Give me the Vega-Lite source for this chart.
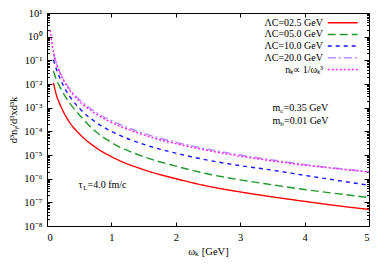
{
  "$schema": "https://vega.github.io/schema/vega-lite/v6.json",
  "width": 322,
  "height": 213,
  "autosize": {"type": "none"},
  "padding": {"left": 47, "top": 13, "right": 20, "bottom": 47},
  "config": {
    "font": "Liberation Serif",
    "view": {"stroke": "black", "strokeWidth": 1},
    "axis": {"domain": false, "grid": false, "tickColor": "black", "labelColor": "black", "titleColor": "black", "labelFont": "Liberation Serif", "titleFont": "Liberation Serif", "labelFontSize": 10.5, "titleFontSize": 10.5, "titleFontWeight": "normal"},
    "legend": {"labelFont": "Liberation Serif", "labelFontSize": 10, "labelColor": "black"}
  },
  "datasets": {
    "curves": [
      {"w": 0.1, "v": 1.12e-2, "s": "ΛC=02.5 GeV"},
      {"w": 0.15, "v": 3.16e-3, "s": "ΛC=02.5 GeV"},
      {"w": 0.2, "v": 1.41e-3, "s": "ΛC=02.5 GeV"},
      {"w": 0.3, "v": 3.98e-4, "s": "ΛC=02.5 GeV"},
      {"w": 0.4, "v": 1.58e-4, "s": "ΛC=02.5 GeV"},
      {"w": 0.5, "v": 7.94e-5, "s": "ΛC=02.5 GeV"},
      {"w": 0.75, "v": 2.14e-5, "s": "ΛC=02.5 GeV"},
      {"w": 1.0, "v": 8.51e-6, "s": "ΛC=02.5 GeV"},
      {"w": 1.5, "v": 2.40e-6, "s": "ΛC=02.5 GeV"},
      {"w": 2.0, "v": 1.0e-6, "s": "ΛC=02.5 GeV"},
      {"w": 2.5, "v": 4.79e-7, "s": "ΛC=02.5 GeV"},
      {"w": 3.0, "v": 2.75e-7, "s": "ΛC=02.5 GeV"},
      {"w": 3.5, "v": 1.70e-7, "s": "ΛC=02.5 GeV"},
      {"w": 4.0, "v": 1.10e-7, "s": "ΛC=02.5 GeV"},
      {"w": 4.5, "v": 7.24e-8, "s": "ΛC=02.5 GeV"},
      {"w": 5.0, "v": 5.01e-8, "s": "ΛC=02.5 GeV"},
      {"w": 0.1, "v": 3.55e-2, "s": "ΛC=05.0 GeV"},
      {"w": 0.15, "v": 1.41e-2, "s": "ΛC=05.0 GeV"},
      {"w": 0.2, "v": 7.59e-3, "s": "ΛC=05.0 GeV"},
      {"w": 0.3, "v": 2.51e-3, "s": "ΛC=05.0 GeV"},
      {"w": 0.4, "v": 1.05e-3, "s": "ΛC=05.0 GeV"},
      {"w": 0.5, "v": 5.01e-4, "s": "ΛC=05.0 GeV"},
      {"w": 0.75, "v": 1.0e-4, "s": "ΛC=05.0 GeV"},
      {"w": 1.0, "v": 3.39e-5, "s": "ΛC=05.0 GeV"},
      {"w": 1.5, "v": 8.51e-6, "s": "ΛC=05.0 GeV"},
      {"w": 2.0, "v": 3.39e-6, "s": "ΛC=05.0 GeV"},
      {"w": 2.5, "v": 1.58e-6, "s": "ΛC=05.0 GeV"},
      {"w": 3.0, "v": 8.91e-7, "s": "ΛC=05.0 GeV"},
      {"w": 3.5, "v": 5.50e-7, "s": "ΛC=05.0 GeV"},
      {"w": 4.0, "v": 3.47e-7, "s": "ΛC=05.0 GeV"},
      {"w": 4.5, "v": 2.34e-7, "s": "ΛC=05.0 GeV"},
      {"w": 5.0, "v": 1.58e-7, "s": "ΛC=05.0 GeV"},
      {"w": 0.1, "v": 0.107, "s": "ΛC=10.0 GeV"},
      {"w": 0.15, "v": 3.98e-2, "s": "ΛC=10.0 GeV"},
      {"w": 0.2, "v": 1.78e-2, "s": "ΛC=10.0 GeV"},
      {"w": 0.3, "v": 5.01e-3, "s": "ΛC=10.0 GeV"},
      {"w": 0.4, "v": 2.0e-3, "s": "ΛC=10.0 GeV"},
      {"w": 0.5, "v": 9.55e-4, "s": "ΛC=10.0 GeV"},
      {"w": 0.75, "v": 2.51e-4, "s": "ΛC=10.0 GeV"},
      {"w": 1.0, "v": 1.0e-4, "s": "ΛC=10.0 GeV"},
      {"w": 1.5, "v": 2.82e-5, "s": "ΛC=10.0 GeV"},
      {"w": 2.0, "v": 1.20e-5, "s": "ΛC=10.0 GeV"},
      {"w": 2.5, "v": 6.03e-6, "s": "ΛC=10.0 GeV"},
      {"w": 3.0, "v": 3.55e-6, "s": "ΛC=10.0 GeV"},
      {"w": 3.5, "v": 2.29e-6, "s": "ΛC=10.0 GeV"},
      {"w": 4.0, "v": 1.38e-6, "s": "ΛC=10.0 GeV"},
      {"w": 4.5, "v": 8.51e-7, "s": "ΛC=10.0 GeV"},
      {"w": 5.0, "v": 5.25e-7, "s": "ΛC=10.0 GeV"},
      {"w": 0.1, "v": 0.191, "s": "ΛC=20.0 GeV"},
      {"w": 0.15, "v": 6.61e-2, "s": "ΛC=20.0 GeV"},
      {"w": 0.2, "v": 3.16e-2, "s": "ΛC=20.0 GeV"},
      {"w": 0.3, "v": 1.0e-2, "s": "ΛC=20.0 GeV"},
      {"w": 0.4, "v": 4.27e-3, "s": "ΛC=20.0 GeV"},
      {"w": 0.5, "v": 2.24e-3, "s": "ΛC=20.0 GeV"},
      {"w": 0.75, "v": 6.61e-4, "s": "ΛC=20.0 GeV"},
      {"w": 1.0, "v": 2.82e-4, "s": "ΛC=20.0 GeV"},
      {"w": 1.5, "v": 8.32e-5, "s": "ΛC=20.0 GeV"},
      {"w": 2.0, "v": 3.47e-5, "s": "ΛC=20.0 GeV"},
      {"w": 2.5, "v": 1.74e-5, "s": "ΛC=20.0 GeV"},
      {"w": 3.0, "v": 1.0e-5, "s": "ΛC=20.0 GeV"},
      {"w": 3.5, "v": 6.17e-6, "s": "ΛC=20.0 GeV"},
      {"w": 4.0, "v": 3.98e-6, "s": "ΛC=20.0 GeV"},
      {"w": 4.5, "v": 2.75e-6, "s": "ΛC=20.0 GeV"},
      {"w": 5.0, "v": 1.95e-6, "s": "ΛC=20.0 GeV"},
      {"w": 0.05, "v": 1.905, "s": "nₖ∝ 1/ωₖ³"},
      {"w": 0.075, "v": 0.569, "s": "nₖ∝ 1/ωₖ³"},
      {"w": 0.1, "v": 0.240, "s": "nₖ∝ 1/ωₖ³"},
      {"w": 0.15, "v": 7.08e-2, "s": "nₖ∝ 1/ωₖ³"},
      {"w": 0.2, "v": 3.02e-2, "s": "nₖ∝ 1/ωₖ³"},
      {"w": 0.3, "v": 8.91e-3, "s": "nₖ∝ 1/ωₖ³"},
      {"w": 0.4, "v": 3.72e-3, "s": "nₖ∝ 1/ωₖ³"},
      {"w": 0.5, "v": 1.91e-3, "s": "nₖ∝ 1/ωₖ³"},
      {"w": 0.75, "v": 5.62e-4, "s": "nₖ∝ 1/ωₖ³"},
      {"w": 1.0, "v": 2.40e-4, "s": "nₖ∝ 1/ωₖ³"},
      {"w": 1.5, "v": 7.08e-5, "s": "nₖ∝ 1/ωₖ³"},
      {"w": 2.0, "v": 3.02e-5, "s": "nₖ∝ 1/ωₖ³"},
      {"w": 2.5, "v": 1.55e-5, "s": "nₖ∝ 1/ωₖ³"},
      {"w": 3.0, "v": 8.91e-6, "s": "nₖ∝ 1/ωₖ³"},
      {"w": 3.5, "v": 5.62e-6, "s": "nₖ∝ 1/ωₖ³"},
      {"w": 4.0, "v": 3.72e-6, "s": "nₖ∝ 1/ωₖ³"},
      {"w": 4.5, "v": 2.63e-6, "s": "nₖ∝ 1/ωₖ³"},
      {"w": 5.0, "v": 1.91e-6, "s": "nₖ∝ 1/ωₖ³"}
    ],
    "one": [{"k": 1}]
  },
  "data": {"name": "curves"},
  "layer": [
    {
      "mark": {"type": "line", "strokeWidth": 1.4, "interpolate": "monotone", "clip": true},
      "encoding": {
        "x": {"field": "w", "type": "quantitative", "scale": {"domain": [0, 5], "nice": false},
          "axis": {"values": [0, 1, 2, 3, 4, 5], "tickSize": -4, "labelPadding": 10, "title": "ωₖ [GeV]", "titlePadding": 4}},
        "y": {"field": "v", "type": "quantitative", "scale": {"type": "log", "domain": [1e-8, 10], "nice": false},
          "axis": {"tickCount": 20, "labelOverlap": false,
            "tickSize": {"condition": {"test": "abs(log(datum.value)/LN10 - round(log(datum.value)/LN10)) < 1e-6", "value": -5}, "value": -2.5},
            "labelPadding": 10,
            "labelExpr": "abs(log(datum.value)/LN10 - round(log(datum.value)/LN10)) > 1e-6 ? '' : '10' + replace(replace(replace(replace(replace(replace(replace(replace(replace(replace(toString(round(log(datum.value)/LN10)),'-','⁻'),'0','⁰'),'1','¹'),'2','²'),'3','³'),'4','⁴'),'5','⁵'),'6','⁶'),'7','⁷'),'8','⁸')",
            "title": "d³nᵧ/d³xd³k", "titlePadding": 5}},
        "color": {"field": "s", "type": "nominal",
          "scale": {"domain": ["ΛC=02.5 GeV", "ΛC=05.0 GeV", "ΛC=10.0 GeV", "ΛC=20.0 GeV", "nₖ∝ 1/ωₖ³"], "range": ["#ff0000", "#22992e", "#1515ff", "#bb88ff", "#ff22ff"]},
          "legend": {"orient": "none", "legendX": 289.7, "legendY": 3.7, "title": null, "symbolType": "M-3,0H3", "symbolSize": 100, "symbolStrokeWidth": 1.5, "labelAlign": "right", "labelOffset": -25.7, "padding": 0, "rowPadding": 0.7}},
        "strokeDash": {"field": "s", "type": "nominal",
          "scale": {"domain": ["ΛC=02.5 GeV", "ΛC=05.0 GeV", "ΛC=10.0 GeV", "ΛC=20.0 GeV", "nₖ∝ 1/ωₖ³"], "range": [[1, 0], [8, 4], [4, 4], [8, 3, 2, 3], [2, 2]]},
          "legend": null}
      }
    },
    {
      "mark": {"type": "line", "opacity": 0},
      "encoding": {
        "x": {"field": "w", "type": "quantitative", "axis": {"orient": "top", "values": [0, 1, 2, 3, 4, 5], "tickSize": -4, "labels": false, "title": null}},
        "y": {"field": "v", "type": "quantitative",
          "axis": {"orient": "right", "tickCount": 20, "labels": false, "title": null,
            "tickSize": {"condition": {"test": "abs(log(datum.value)/LN10 - round(log(datum.value)/LN10)) < 1e-6", "value": -5}, "value": -2.5}}}
      }
    },
    {
      "data": {"name": "one"},
      "mark": {"type": "text", "align": "left", "baseline": "middle", "fontSize": 10, "font": "Liberation Serif", "color": "black"},
      "encoding": {"x": {"datum": 3.5, "type": "quantitative", "axis": null}, "y": {"datum": 0.00095, "type": "quantitative", "axis": null}, "text": {"value": "m"}}
    },
    {
      "data": {"name": "one"},
      "mark": {"type": "text", "align": "left", "baseline": "middle", "fontSize": 7, "dx": 7.8, "dy": 3, "font": "Liberation Serif", "color": "black"},
      "encoding": {"x": {"datum": 3.5, "type": "quantitative", "axis": null}, "y": {"datum": 0.00095, "type": "quantitative", "axis": null}, "text": {"value": "c"}}
    },
    {
      "data": {"name": "one"},
      "mark": {"type": "text", "align": "left", "baseline": "middle", "fontSize": 10, "dx": 11.2, "font": "Liberation Serif", "color": "black"},
      "encoding": {"x": {"datum": 3.5, "type": "quantitative", "axis": null}, "y": {"datum": 0.00095, "type": "quantitative", "axis": null}, "text": {"value": "=0.35 GeV"}}
    },
    {
      "data": {"name": "one"},
      "mark": {"type": "text", "align": "left", "baseline": "middle", "fontSize": 10, "font": "Liberation Serif", "color": "black"},
      "encoding": {"x": {"datum": 3.5, "type": "quantitative", "axis": null}, "y": {"datum": 0.00028, "type": "quantitative", "axis": null}, "text": {"value": "m"}}
    },
    {
      "data": {"name": "one"},
      "mark": {"type": "text", "align": "left", "baseline": "middle", "fontSize": 7, "dx": 7.8, "dy": 3, "font": "Liberation Serif", "color": "black"},
      "encoding": {"x": {"datum": 3.5, "type": "quantitative", "axis": null}, "y": {"datum": 0.00028, "type": "quantitative", "axis": null}, "text": {"value": "b"}}
    },
    {
      "data": {"name": "one"},
      "mark": {"type": "text", "align": "left", "baseline": "middle", "fontSize": 10, "dx": 11.6, "font": "Liberation Serif", "color": "black"},
      "encoding": {"x": {"datum": 3.5, "type": "quantitative", "axis": null}, "y": {"datum": 0.00028, "type": "quantitative", "axis": null}, "text": {"value": "=0.01 GeV"}}
    },
    {
      "data": {"name": "one"},
      "mark": {"type": "text", "align": "left", "baseline": "middle", "fontSize": 10, "font": "Liberation Serif", "color": "black"},
      "encoding": {"x": {"datum": 0.49, "type": "quantitative", "axis": null}, "y": {"datum": 5.2e-7, "type": "quantitative", "axis": null}, "text": {"value": "τ"}}
    },
    {
      "data": {"name": "one"},
      "mark": {"type": "text", "align": "left", "baseline": "middle", "fontSize": 7, "dx": 4.6, "dy": 3, "font": "Liberation Serif", "color": "black"},
      "encoding": {"x": {"datum": 0.49, "type": "quantitative", "axis": null}, "y": {"datum": 5.2e-7, "type": "quantitative", "axis": null}, "text": {"value": "L"}}
    },
    {
      "data": {"name": "one"},
      "mark": {"type": "text", "align": "left", "baseline": "middle", "fontSize": 10, "dx": 9.0, "font": "Liberation Serif", "color": "black"},
      "encoding": {"x": {"datum": 0.49, "type": "quantitative", "axis": null}, "y": {"datum": 5.2e-7, "type": "quantitative", "axis": null}, "text": {"value": "=4.0 fm/c"}}
    }
  ],
  "resolve": {"axis": {"x": "independent", "y": "independent"}}
}
